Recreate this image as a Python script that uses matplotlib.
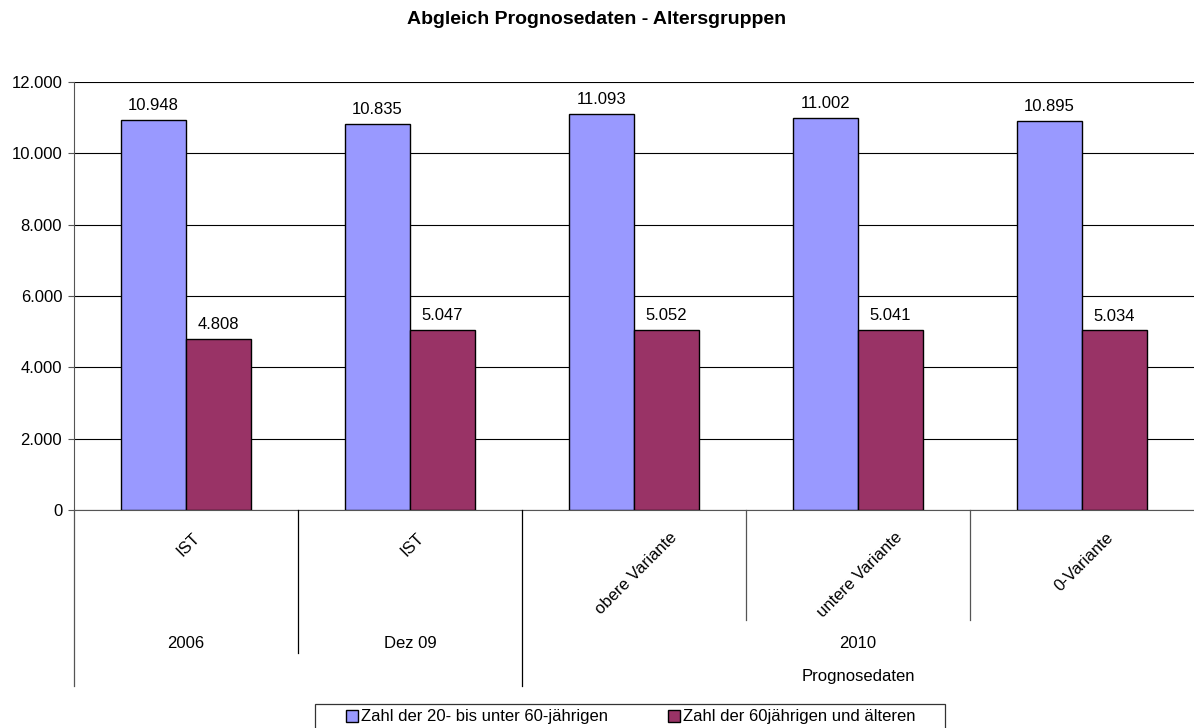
import matplotlib
matplotlib.use("Agg")
import matplotlib.pyplot as plt
from matplotlib.transforms import blended_transform_factory
from matplotlib.lines import Line2D
from matplotlib.patches import Rectangle
import numpy as np

plt.rcParams['font.family'] = ['Liberation Sans', 'DejaVu Sans']

categories = ["IST", "IST", "obere Variante", "untere Variante", "0-Variante"]
groups = ["2006", "Dez 09", "2010"]
group_spans = [(0, 0), (1, 1), (2, 4)]
outer_label = "Prognosedaten"
series_names = ["Zahl der 20- bis unter 60-jährigen", "Zahl der 60jährigen und älteren"]
values_a = [10948, 10835, 11093, 11002, 10895]
values_b = [4808, 5047, 5052, 5041, 5034]
yticks = [0, 2000, 4000, 6000, 8000, 10000, 12000]
title = "Abgleich Prognosedaten - Altersgruppen"

W, H = 1194, 728
FS = 12
fig = plt.figure(figsize=(W / 100, H / 100), dpi=100)
ax = fig.add_axes([74 / W, 1 - 510 / H, 1 - 74 / W, (510 - 82) / H])

def fy(py):
    return 1 - py / H

x = np.arange(len(categories))
bw = 0.29
colors = ["#9999FF", "#993366"]
for vals, off, c, name in [(values_a, -bw / 2, colors[0], series_names[0]),
                            (values_b, bw / 2, colors[1], series_names[1])]:
    bars = ax.bar(x + off, vals, width=bw, color=c, edgecolor="black", linewidth=1.0,
                  label=name, zorder=3)
    for b, v in zip(bars, vals):
        ax.annotate(f"{v:,}".replace(",", "."), (b.get_x() + b.get_width() / 2, v),
                    xytext=(0, 5), textcoords="offset points", ha="center", va="bottom",
                    fontsize=FS)

ax.set_xlim(-0.5, 4.5)
ax.set_ylim(0, 12000)
ax.set_yticks(yticks)
ax.set_yticklabels([f"{t:,}".replace(",", ".") for t in yticks], fontsize=FS)
ax.yaxis.grid(True, color="black", linewidth=0.8)
ax.set_axisbelow(True)
ax.set_xticks([])
for s in ["top", "right"]:
    ax.spines[s].set_visible(False)
ax.spines["left"].set_color("#555555")
ax.spines["bottom"].set_color("#555555")
ax.tick_params(axis="y", length=4.5, color="#555555", pad=4)

tr = blended_transform_factory(ax.transData, fig.transFigure)

# rotated category labels
for xi, lab in zip(x, categories):
    ax.text(xi + 0.01, fy(530), lab, transform=tr, rotation=45, ha="center", va="top", fontsize=FS)

# separators
def vline(xd, y0, y1, color="black"):
    fig.add_artist(Line2D([xd, xd], [fy(y0), fy(y1)], transform=tr, color=color, linewidth=0.9))

vline(-0.5, 510, 686, "#555555")
vline(0.5, 510, 653)
vline(1.5, 510, 686)
vline(2.5, 510, 620, "#555555")
vline(3.5, 510, 620, "#555555")

for g, (a, b) in zip(groups, group_spans):
    ax.text((a + b) / 2, fy(643), g, transform=tr, ha="center", va="center", fontsize=FS)
ax.text(3, fy(676), outer_label, transform=tr, ha="center", va="center", fontsize=FS)

fig.text(0.5, fy(20), title, ha="center", va="center", fontsize=14, fontweight="bold")

fig.add_artist(Rectangle((315 / W, fy(735)), (945 - 315) / W, (735 - 704) / H,
                         transform=fig.transFigure, fill=False, edgecolor="#333333",
                         linewidth=0.9))
leg = fig.legend(loc="center left", bbox_to_anchor=(346 / W, fy(717)), ncol=2, fontsize=FS,
                 frameon=False, handlelength=0.7, handleheight=0.7, handletextpad=0.2,
                 columnspacing=3.6, borderpad=0, borderaxespad=0)

fig.savefig("out.png", dpi=100)
